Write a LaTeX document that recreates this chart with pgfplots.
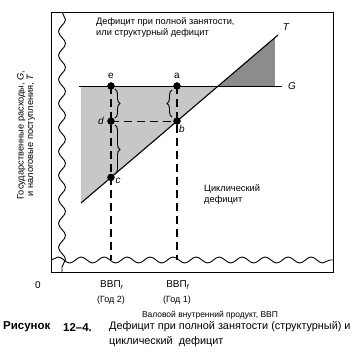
\documentclass[border=0pt]{standalone}
\usepackage{fontspec}
\setmainfont{Liberation Sans}
\usepackage{pgfplots}
\pgfplotsset{compat=1.18}
\usetikzlibrary{decorations.pathmorphing,decorations.pathreplacing}
\begin{document}
\begin{tikzpicture}
\begin{axis}[x=1bp,y=1bp,xmin=51,xmax=333,ymin=85,ymax=345,
  axis line style={line width=1pt},xtick=\empty,ytick=\empty,clip=false,
  anchor=origin, at={(0,0)}]
\path[draw=none] (axis cs:0,0) rectangle (axis cs:362,357);
% shaded areas
\addplot[draw=none,fill=black!22] coordinates {(81,271) (218.2,271) (81,154)} -- cycle;
\addplot[draw=none,fill=black!45] coordinates {(218.2,271) (275,271) (275,319.5)} -- cycle;
% G and T lines
\addplot[black,line width=1pt] coordinates {(79,271) (282,271)};
\addplot[black,line width=1.1pt] coordinates {(81,154) (278,322)};
% dashed lines
\addplot[black,line width=1.1pt,dash pattern=on 8bp off 5bp] coordinates {(111,271) (111,97)};
\addplot[black,line width=1.1pt,dash pattern=on 8bp off 5bp] coordinates {(177,271) (177,97)};
\addplot[black,line width=1.1pt,dash pattern=on 8bp off 5bp] coordinates {(111,235.9) (177,235.9)};
% points
\addplot[only marks,mark=*,mark size=3.5bp,black] coordinates {(111,271) (177,271) (111,235.9) (177,235.9) (111,179.6)};
% wavy lines
\draw[line width=0.9pt,decorate,decoration={snake,amplitude=3.5bp,segment length=24bp}] (axis cs:62,345) -- (axis cs:62,85);
\draw[line width=0.9pt,decorate,decoration={snake,amplitude=3bp,segment length=23bp}] (axis cs:51,97) -- (axis cs:333,97);
% braces
\draw[line width=0.9pt,decorate,decoration={brace,amplitude=5bp}] (axis cs:115,268) -- (axis cs:115,239);
\draw[line width=0.9pt,decorate,decoration={brace,amplitude=5bp}] (axis cs:115,232) -- (axis cs:115,183);
\draw[line width=0.9pt,decorate,decoration={brace,amplitude=5bp}] (axis cs:172,240) -- (axis cs:172,267);
% point labels
\node[font=\fontsize{10}{12}\selectfont] at (axis cs:111,281) {e};
\node[font=\fontsize{10}{12}\selectfont] at (axis cs:177,281) {a};
\node[font=\fontsize{10}{12}\selectfont\itshape] at (axis cs:101,236) {d};
\node[font=\fontsize{10}{12}\selectfont\itshape] at (axis cs:182,228) {b};
\node[font=\fontsize{10}{12}\selectfont\itshape] at (axis cs:118,176) {c};
\node[font=\fontsize{10}{12}\selectfont\itshape] at (axis cs:286,330) {T};
\node[font=\fontsize{10}{12}\selectfont\itshape] at (axis cs:292,271) {G};
% texts
\node[anchor=north west,align=left,inner sep=0pt,font=\fontsize{9.3}{11.5}\selectfont] at (axis cs:96,340) {Дефицит при полной занятости,\\или структурный дефицит};
\node[anchor=north west,align=left,inner sep=0pt,font=\fontsize{9.3}{11}\selectfont] at (axis cs:204,173) {Циклический\\дефицит};
\node[rotate=90,align=center,inner sep=0pt,font=\fontsize{9.3}{9.5}\selectfont] at (axis cs:26,222) {Государственные расходы, \textit{G},\\и налоговые поступления, \textit{T}};
\node[font=\fontsize{10}{12}\selectfont] at (axis cs:38,72) {0};
\node[font=\fontsize{10}{12}\selectfont] at (axis cs:112,72) {ВВП\textsubscript{\textit{r}}};
\node[font=\fontsize{10}{12}\selectfont] at (axis cs:178,72) {ВВП\textsubscript{\textit{f}}};
\node[font=\fontsize{9}{12}\selectfont] at (axis cs:111,57) {(Год 2)};
\node[font=\fontsize{9}{12}\selectfont] at (axis cs:177,57) {(Год 1)};
\node[font=\fontsize{8.5}{12}\selectfont] at (axis cs:210,42) {Валовой внутренний продукт, ВВП};
\node[anchor=west,inner sep=0pt,font=\fontsize{11.5}{12}\selectfont\bfseries] at (axis cs:3,30) {Рисунок};
\node[anchor=west,inner sep=0pt,font=\fontsize{11.5}{12}\selectfont\bfseries] at (axis cs:63,30) {12–4.};
\node[anchor=west,inner sep=0pt,font=\fontsize{10.9}{12}\selectfont] at (axis cs:109,30) {Дефицит при полной занятости (структурный) и};
\node[anchor=west,inner sep=0pt,font=\fontsize{10.9}{12}\selectfont] at (axis cs:109,15) {циклический\ \ дефицит};
\end{axis}
\end{tikzpicture}
\end{document}
